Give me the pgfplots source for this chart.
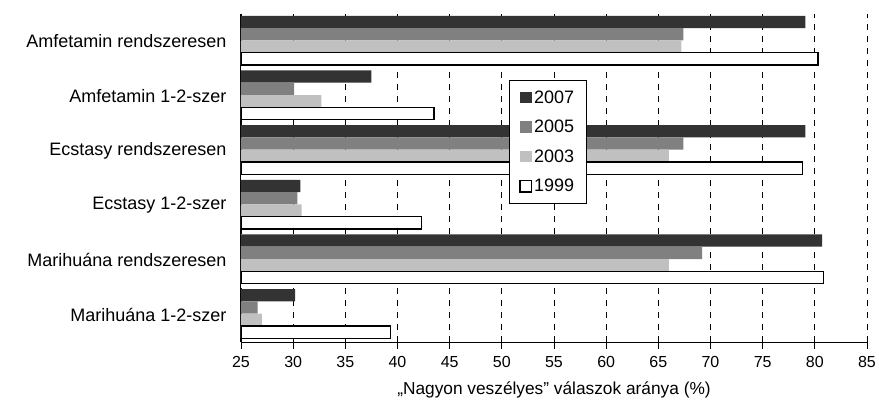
\documentclass[border=0pt]{standalone}
\usepackage{fontspec}
\setmainfont{Liberation Sans}
\usepackage{pgfplots}
\pgfplotsset{compat=1.18}
\definecolor{c07}{HTML}{333333}
\definecolor{c05}{HTML}{808080}
\definecolor{c03}{HTML}{C0C0C0}
\begin{document}
\begin{tikzpicture}
\begin{axis}[
  at={(0,0)}, anchor=south west,
  scale only axis, width=626pt, height=328pt,
  xbar, bar width=0.225,
  xmin=25, xmax=85, ymin=-0.5, ymax=5.5,
  axis x line*=bottom, axis y line*=left,
  axis line style={line width=1pt, black},
  xtick={25,30,...,85},
  ytick=\empty,
  minor ytick={-0.5,0.5,...,5.5},
  extra y ticks={0,1,2,3,4,5},
  extra y tick labels={Marihuána 1-2-szer, Marihuána rendszeresen, Ecstasy 1-2-szer, Ecstasy rendszeresen, Amfetamin 1-2-szer, Amfetamin rendszeresen},
  extra y tick style={major tick length=0pt, yticklabel style={xshift=-11pt, font=\fontsize{18}{21}\selectfont}},
  tick align=outside,
  major tick length=7pt, minor tick length=8pt,
  every tick/.style={black, line width=0.8pt},
  xmajorgrids=true, yminorgrids=true,
  major grid style={black, dash pattern=on 6pt off 6pt, line width=0.8pt},
  minor grid style={black, solid, line width=1pt},
  /pgf/number format/assume math mode=true,
  tick label style={font=\fontsize{16}{19}\selectfont},
  xticklabel style={yshift=-4pt},
  xlabel={„Nagyon veszélyes” válaszok aránya (\%)},
  label style={font=\fontsize{17.3}{20}\selectfont},
  xlabel style={yshift=-7pt},
  legend style={at={(0.428,0.799)}, anchor=north west, draw=black, line width=1pt,
    font=\fontsize{18}{21}\selectfont, row sep=11.5pt, inner xsep=10pt, inner ysep=8pt,
    cells={anchor=west}},
  legend cell align=left,
  legend image code/.code={\path[#1] (0pt,-5.8pt) rectangle (11.5pt,5.8pt);},
]
\addplot[fill=c07, draw=none, bar shift=0.355] coordinates {
  (79.1,5) (37.5,4) (79.1,3) (30.7,2) (80.7,1) (30.2,0)};
\addlegendentry{2007}
\addplot[fill=c05, draw=none, bar shift=0.13] coordinates {
  (67.4,5) (30.1,4) (67.4,3) (30.4,2) (69.2,1) (26.6,0)};
\addlegendentry{2005}
\addplot[fill=c03, draw=none, bar shift=-0.095] coordinates {
  (67.2,5) (32.7,4) (66.0,3) (30.8,2) (66.0,1) (27.0,0)};
\addlegendentry{2003}
\addplot[fill=white, draw=black, line width=1.2pt, bar shift=-0.32] coordinates {
  (80.3,5) (43.5,4) (78.8,3) (42.3,2) (80.8,1) (39.3,0)};
\addlegendentry{1999}
\end{axis}
\pgfresetboundingbox
\path (-241pt,-66pt) rectangle (638pt,342pt);
\end{tikzpicture}
\end{document}
